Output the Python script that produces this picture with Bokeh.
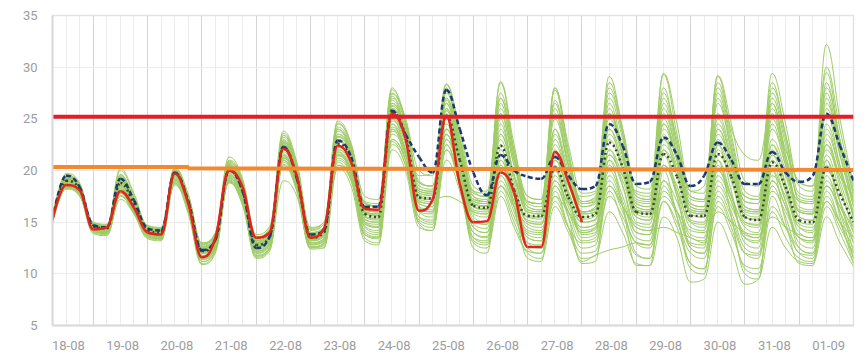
import numpy as np
from bokeh.plotting import figure
from bokeh.models import ColumnDataSource, FixedTicker, Range1d
from bokeh.embed import file_html
from bokeh.resources import INLINE

# ---------------- data ----------------
day_labels = ["18-08", "19-08", "20-08", "21-08", "22-08", "23-08", "24-08", "25-08",
              "26-08", "27-08", "28-08", "29-08", "30-08", "31-08", "01-09"]
# hours since 18-08 00:00, 6-hourly from 18-08 06:00 to 02-09 00:00
hours = list(range(6, 361, 6))
y_ticks = [5, 10, 15, 20, 25, 30, 35]

threshold_red_h = [6, 360]
threshold_red_v = [25.2, 25.2]
threshold_orange_h = [6, 66, 66, 360]
threshold_orange_v = [20.35, 20.35, 20.22, 20.05]

observed = [15.3, 18.6, 18.1,
            14.3, 14.5, 18.0, 16.4,
            14.0, 13.8, 19.7, 16.8,
            11.6, 13.5, 20.0, 18.4,
            13.5, 14.0, 22.1, 19.4,
            13.5, 14.4, 22.4, 20.8,
            16.3, 16.2, 25.5, 23.1,
            16.1, 17.2, 25.3, 18.7,
            15.0, 15.1, 19.8, 17.9,
            12.6, 12.6, 21.8, 18.9,
            15.0]

deterministic = [15.3, 19.5, 18.4,
                 14.7, 14.5, 19.2, 17.1,
                 14.4, 14.2, 19.8, 17.0,
                 12.3, 13.3, 20.0, 18.0,
                 12.5, 13.6, 22.3, 19.2,
                 13.8, 14.2, 22.9, 21.3,
                 16.5, 16.5, 25.8, 23.5,
                 21.3, 19.8, 27.8, 24.0,
                 19.8, 17.6, 21.5, 20.0,
                 19.4, 19.2, 21.3, 19.5,
                 18.2, 18.5, 24.5, 22.4,
                 18.7, 18.9, 23.2, 21.5,
                 18.5, 19.5, 22.7, 21.0,
                 18.7, 18.7, 21.8, 19.8,
                 18.9, 19.5, 25.5, 22.4,
                 19.0]

ens_mean = [15.3, 19.0, 18.2,
            14.6, 14.4, 18.8, 16.8,
            14.2, 14.0, 19.7, 17.0,
            12.2, 13.3, 20.0, 18.0,
            12.8, 13.6, 22.2, 19.4,
            13.5, 14.0, 22.6, 21.0,
            15.8, 15.5, 25.6, 23.4,
            17.4, 17.3, 25.3, 21.0,
            16.6, 16.4, 22.4, 18.1,
            15.6, 15.6, 20.3, 17.4,
            15.5, 15.8, 22.7, 20.3,
            16.0, 15.8, 21.6, 19.4,
            15.6, 15.6, 21.6, 19.4,
            15.5, 15.2, 20.8, 18.4,
            15.2, 15.0, 20.3, 17.7,
            15.0]

m01 = [15.4, 19.6, 18.5, 14.8, 14.6, 19.5, 17.3, 14.5, 14.3, 20.1, 17.5, 12.8, 13.8, 20.8, 18.8,
       13.5, 14.2, 23.4, 20.3, 14.2, 14.8, 24.6, 22.4, 17.0, 16.8, 27.8, 25.0, 19.0, 18.5, 28.3, 23.5,
       18.0, 17.5, 28.5, 22.0, 17.5, 17.2, 27.8, 21.5, 17.0, 17.5, 29.1, 24.0, 17.8, 17.5, 29.3, 23.5,
       17.5, 17.2, 29.1, 23.5, 18.0, 17.5, 29.4, 24.5, 18.5, 18.0, 32.2, 25.0, 18.5]
m02 = [15.2, 19.3, 18.4, 14.7, 14.5, 19.2, 17.0, 14.4, 14.1, 20.0, 17.3, 12.5, 13.6, 20.5, 18.5,
       13.2, 14.0, 23.0, 20.1, 14.0, 14.5, 24.0, 22.0, 16.5, 16.2, 27.0, 24.5, 18.5, 18.2, 28.0, 22.8,
       17.5, 17.0, 26.5, 21.0, 17.0, 16.8, 25.5, 20.5, 16.8, 17.2, 27.5, 23.5, 17.2, 17.0, 28.0, 22.5,
       16.8, 16.5, 27.0, 22.0, 17.0, 16.8, 26.0, 21.5, 17.5, 17.2, 29.5, 23.0, 17.8]
m03 = [15.3, 19.2, 18.3, 14.6, 14.5, 19.0, 16.9, 14.3, 14.2, 19.9, 17.2, 12.4, 13.5, 20.3, 18.3,
       13.0, 13.8, 22.6, 19.8, 13.8, 14.3, 23.5, 21.8, 16.2, 16.0, 26.5, 24.0, 18.2, 18.0, 27.0, 22.5,
       17.2, 17.0, 25.5, 20.5, 16.8, 16.5, 26.5, 21.0, 16.5, 17.0, 28.0, 23.5, 17.5, 17.2, 27.5, 23.0,
       18.0, 18.5, 28.5, 24.0, 21.5, 21.0, 26.5, 22.0, 19.0, 18.5, 27.5, 22.5, 19.0]
m04 = [15.1, 18.9, 18.1, 14.5, 14.3, 18.7, 16.7, 14.1, 13.9, 19.6, 16.9, 12.0, 13.1, 19.8, 17.8,
       12.6, 13.4, 22.8, 19.6, 13.4, 13.9, 24.0, 21.5, 15.5, 15.4, 27.2, 23.8, 17.8, 17.6, 26.5, 22.0,
       16.8, 16.6, 27.0, 21.5, 16.2, 16.0, 28.0, 22.0, 16.0, 16.5, 25.0, 21.5, 16.5, 16.2, 26.5, 22.0,
       16.2, 16.0, 25.5, 21.5, 16.5, 16.2, 28.0, 23.5, 17.0, 16.8, 26.0, 21.5, 16.5]
m05 = [15.4, 18.8, 18.0, 14.7, 14.6, 18.5, 16.6, 14.3, 14.1, 19.4, 16.8, 12.3, 13.4, 19.5, 17.6,
       12.9, 13.7, 21.5, 18.8, 13.6, 14.1, 21.8, 20.0, 16.0, 15.8, 24.5, 21.5, 17.5, 17.2, 17.5, 17.0,
       16.0, 15.8, 21.0, 18.0, 15.5, 15.3, 23.5, 19.5, 15.8, 16.0, 26.0, 21.5, 16.2, 16.0, 22.5, 20.0,
       15.8, 15.5, 24.0, 20.5, 15.5, 15.3, 22.5, 19.5, 15.5, 15.2, 24.0, 20.0, 15.5]
m06 = [15.3, 18.7, 17.9, 14.4, 14.2, 18.3, 16.4, 14.0, 13.8, 19.3, 16.7, 11.8, 12.9, 19.6, 17.6,
       12.4, 13.2, 21.8, 19.0, 13.2, 13.6, 22.0, 20.4, 15.2, 15.0, 25.0, 22.8, 17.0, 16.8, 25.8, 21.2,
       16.2, 16.0, 23.5, 19.0, 15.0, 14.8, 21.0, 17.8, 15.0, 15.2, 23.5, 20.5, 15.5, 15.2, 20.5, 18.5,
       14.5, 14.2, 22.5, 19.5, 15.0, 14.7, 19.5, 17.5, 14.5, 14.2, 21.5, 18.0, 14.5]
m07 = [15.2, 18.5, 17.8, 14.3, 14.1, 18.0, 16.2, 13.8, 13.6, 19.0, 16.5, 11.5, 12.6, 19.2, 17.2,
       12.2, 13.0, 21.0, 18.5, 12.8, 13.2, 21.2, 19.6, 14.8, 14.5, 24.0, 22.0, 16.5, 16.2, 24.0, 20.0,
       15.0, 14.8, 20.0, 17.0, 14.2, 14.0, 18.5, 16.0, 14.0, 14.3, 21.0, 18.5, 14.5, 14.2, 19.0, 17.0,
       13.5, 13.2, 19.5, 17.0, 13.8, 13.5, 18.0, 16.0, 13.5, 13.2, 19.0, 16.5, 13.5]
m08 = [15.0, 18.3, 17.6, 14.1, 13.9, 17.5, 15.9, 13.6, 13.4, 18.7, 16.2, 11.2, 12.3, 18.8, 16.8,
       11.8, 12.6, 20.5, 18.0, 12.5, 12.8, 20.5, 19.0, 14.5, 14.0, 23.0, 21.0, 16.0, 15.5, 22.5, 19.0,
       14.0, 13.5, 18.5, 15.5, 13.0, 12.8, 17.0, 14.5, 13.0, 13.2, 17.5, 15.5, 13.0, 12.5, 17.0, 15.0,
       12.0, 11.5, 17.5, 15.0, 12.0, 11.8, 16.5, 14.5, 12.5, 12.0, 17.5, 15.0, 12.5]
m09 = [15.1, 18.6, 17.9, 14.4, 14.2, 18.4, 16.3, 13.9, 13.7, 19.2, 16.6, 11.6, 12.7, 19.4, 17.3,
       12.0, 12.8, 21.2, 18.6, 13.0, 13.4, 21.5, 19.8, 14.0, 13.6, 22.5, 20.5, 15.0, 14.5, 21.0, 18.0,
       13.0, 12.5, 17.5, 14.5, 12.0, 11.5, 16.5, 14.0, 11.5, 11.8, 16.0, 14.0, 11.0, 10.8, 15.5, 13.5,
       9.2, 9.5, 15.0, 12.5, 9.0, 9.5, 14.5, 12.5, 11.2, 11.0, 15.5, 13.0, 10.7]
m10 = [15.4, 18.9, 18.2, 14.6, 14.4, 18.9, 16.9, 14.2, 14.0, 19.6, 16.9, 12.0, 13.2, 20.2, 18.2,
       12.6, 13.4, 22.0, 19.2, 13.3, 13.8, 22.8, 21.2, 15.0, 14.8, 25.0, 22.0, 16.8, 16.5, 23.5, 19.5,
       14.5, 14.0, 19.5, 16.5, 13.0, 12.5, 18.0, 14.5, 11.2, 11.8, 12.3, 12.6, 13.0, 12.8, 18.0, 16.0,
       13.0, 12.8, 20.0, 17.0, 13.5, 13.0, 21.5, 18.0, 14.0, 13.5, 22.5, 18.5, 14.0]
m11 = [15.2, 19.1, 18.3, 14.5, 14.3, 18.6, 16.6, 14.1, 13.9, 19.5, 16.9, 12.1, 13.2, 19.9, 17.9,
       12.7, 13.5, 22.4, 19.5, 13.6, 14.1, 22.2, 20.8, 15.6, 15.3, 25.5, 23.0, 17.2, 17.0, 24.5, 20.5,
       15.8, 15.5, 22.0, 18.0, 15.0, 14.8, 20.0, 17.0, 14.5, 14.8, 19.0, 16.5, 14.5, 14.2, 14.5, 14.0,
       13.5, 13.0, 19.0, 16.5, 14.0, 13.5, 20.0, 17.0, 13.5, 13.0, 18.5, 16.0, 13.0]
m12 = [15.5, 19.4, 18.6, 14.9, 14.7, 19.4, 17.2, 14.6, 14.4, 20.2, 17.6, 12.9, 13.9, 20.6, 18.6,
       13.4, 14.1, 22.9, 20.0, 14.0, 14.5, 23.8, 22.0, 16.5, 16.2, 26.5, 24.0, 18.0, 17.8, 26.0, 21.5,
       17.0, 16.8, 24.5, 19.5, 16.5, 16.2, 22.5, 19.0, 16.0, 16.3, 24.5, 21.5, 16.8, 16.5, 24.0, 21.0,
       16.5, 16.2, 23.5, 20.5, 16.2, 16.0, 23.0, 20.0, 16.0, 15.8, 23.5, 20.0, 16.0]
m13 = [15.0, 18.4, 17.7, 14.2, 14.0, 17.8, 16.0, 13.7, 13.5, 18.9, 16.3, 11.4, 12.5, 19.0, 17.0,
       11.6, 12.4, 19.0, 17.5, 12.6, 13.0, 20.5, 19.2, 13.8, 13.5, 23.5, 21.5, 15.5, 15.0, 23.0, 19.5,
       13.5, 13.0, 19.0, 16.0, 12.5, 12.0, 18.5, 15.5, 12.5, 12.8, 19.5, 16.5, 12.0, 11.5, 18.5, 15.5,
       11.0, 10.5, 17.0, 14.5, 10.5, 10.0, 17.5, 14.5, 12.0, 11.5, 18.0, 15.0, 11.5]
m14 = [15.3, 19.5, 18.7, 14.8, 14.6, 20.0, 17.6, 14.4, 14.2, 20.0, 17.4, 12.6, 13.7, 21.0, 19.0,
       13.3, 14.0, 23.6, 20.5, 13.9, 14.4, 24.8, 22.6, 16.8, 16.5, 28.0, 24.5, 18.8, 18.5, 27.5, 23.0,
       17.8, 17.5, 28.6, 22.5, 17.0, 16.8, 24.0, 20.0, 16.0, 16.5, 23.0, 20.0, 16.0, 15.8, 25.0, 21.0,
       16.0, 15.8, 26.5, 22.0, 16.5, 16.2, 25.0, 21.0, 16.2, 16.0, 28.5, 22.5, 17.0]
m15 = [14.9, 18.2, 17.5, 14.0, 13.8, 17.2, 15.8, 13.5, 13.3, 18.6, 16.0, 11.0, 12.2, 18.9, 16.6,
       11.7, 12.4, 20.8, 18.2, 12.6, 12.6, 20.2, 18.5, 13.2, 12.8, 22.0, 20.0, 14.5, 14.2, 22.0, 18.5,
       13.5, 13.2, 20.5, 17.0, 13.5, 13.2, 21.5, 17.5, 13.8, 14.0, 22.0, 18.5, 14.0, 13.8, 20.5, 17.5,
       12.5, 12.0, 18.5, 16.0, 12.5, 12.0, 19.0, 16.5, 13.0, 12.5, 20.0, 17.0, 12.0]
m16 = [15.6, 19.2, 18.5, 15.0, 14.8, 19.0, 17.1, 14.7, 14.5, 19.8, 17.3, 13.0, 13.9, 20.0, 18.3,
       13.6, 14.4, 22.2, 19.8, 14.4, 15.0, 22.8, 21.3, 16.8, 16.6, 25.2, 23.0, 19.5, 19.8, 24.0, 21.5,
       18.0, 17.8, 22.5, 19.5, 17.0, 16.8, 21.0, 18.5, 17.5, 17.8, 21.5, 19.5, 18.0, 17.8, 22.0, 20.0,
       17.5, 17.2, 21.5, 19.5, 17.5, 17.2, 21.5, 19.5, 17.0, 16.8, 22.0, 19.5, 17.5]
m17 = [15.2, 18.8, 18.1, 14.5, 14.3, 18.2, 16.5, 14.0, 13.8, 19.2, 16.8, 11.7, 12.8, 19.5, 17.4,
       12.3, 13.1, 21.4, 18.9, 13.2, 13.6, 21.8, 20.2, 15.0, 14.6, 24.5, 22.0, 16.2, 16.0, 25.0, 20.5,
       15.2, 14.8, 21.5, 17.5, 14.5, 14.2, 19.5, 16.5, 14.0, 14.5, 24.0, 20.0, 15.0, 14.8, 23.0, 19.5,
       15.0, 14.5, 20.5, 17.5, 14.5, 14.0, 22.5, 18.5, 14.5, 14.0, 20.5, 17.0, 14.0]
m18 = [15.4, 19.7, 18.8, 14.9, 14.7, 20.2, 17.8, 14.6, 14.4, 20.3, 17.7, 13.0, 14.0, 21.3, 19.2,
       13.8, 14.6, 23.8, 20.8, 14.5, 15.0, 24.5, 22.5, 17.5, 17.2, 27.5, 25.0, 20.0, 19.5, 28.4, 24.0,
       18.5, 18.0, 27.5, 22.0, 17.5, 17.2, 28.0, 22.5, 17.8, 18.0, 28.5, 24.0, 18.5, 18.2, 29.4, 24.5,
       18.0, 17.8, 29.2, 24.5, 19.0, 18.5, 28.5, 23.5, 18.8, 18.5, 30.0, 24.0, 18.0]
m19 = [14.9, 18.4, 17.6, 13.9, 13.7, 17.6, 15.8, 13.4, 13.2, 18.8, 15.8, 10.9, 12.0, 19.0, 16.8,
       11.5, 12.2, 21.0, 18.2, 12.4, 12.5, 21.5, 19.5, 13.5, 13.0, 24.0, 21.0, 14.8, 14.2, 23.5, 19.0,
       12.5, 12.0, 21.0, 16.5, 11.5, 11.2, 20.0, 15.5, 11.0, 11.2, 21.0, 16.5, 10.8, 10.8, 20.0, 15.5,
       10.5, 10.0, 21.0, 15.5, 10.0, 9.5, 20.0, 15.0, 11.0, 10.8, 21.0, 15.5, 11.0]
m20 = [15.3, 19.0, 18.2, 14.6, 14.4, 18.9, 16.8, 14.2, 14.0, 19.8, 17.1, 12.2, 13.3, 20.1, 18.1,
       12.8, 13.6, 22.5, 19.5, 13.6, 14.0, 23.0, 21.2, 15.8, 15.6, 26.0, 23.5, 17.5, 17.2, 26.5, 21.5,
       16.5, 16.2, 25.0, 19.5, 15.8, 15.5, 24.0, 19.0, 15.5, 15.8, 26.5, 22.0, 16.0, 15.8, 26.0, 21.5,
       15.8, 15.5, 25.0, 21.0, 15.5, 15.2, 26.5, 21.5, 15.5, 15.2, 25.5, 20.5, 15.5]
m21 = [15.1, 18.7, 18.0, 14.4, 14.2, 18.5, 16.5, 14.0, 13.8, 19.4, 16.8, 12.0, 13.0, 19.7, 17.5,
       12.5, 13.3, 21.6, 19.0, 13.3, 13.7, 22.0, 20.5, 15.3, 15.0, 24.8, 22.5, 16.8, 16.5, 24.0, 20.0,
       15.5, 15.0, 18.5, 16.5, 14.8, 14.5, 17.5, 16.0, 14.5, 14.8, 18.5, 16.5, 14.8, 14.5, 17.5, 16.0,
       14.2, 14.0, 16.0, 15.0, 14.0, 13.8, 15.5, 14.5, 13.8, 13.5, 17.0, 15.0, 13.5]
m22 = [15.4, 19.2, 18.4, 14.7, 14.5, 19.3, 17.0, 14.4, 14.2, 20.0, 17.4, 12.6, 13.6, 20.5, 18.5,
       13.1, 13.9, 23.2, 20.2, 13.9, 14.4, 23.2, 21.5, 16.2, 16.0, 26.8, 24.0, 18.0, 17.8, 27.0, 22.5,
       17.2, 17.0, 26.0, 21.0, 16.5, 16.2, 25.0, 20.5, 16.8, 17.0, 25.5, 22.0, 17.0, 16.8, 24.5, 21.0,
       16.8, 16.5, 27.5, 22.5, 17.0, 16.8, 27.0, 22.5, 17.2, 17.0, 26.5, 22.0, 16.8]
m23 = [15.0, 18.6, 17.8, 14.3, 14.0, 18.1, 16.2, 13.8, 13.6, 19.1, 16.5, 11.6, 12.6, 19.3, 17.1,
       12.1, 12.9, 21.3, 18.7, 12.9, 13.3, 21.6, 20.0, 14.6, 14.2, 23.8, 21.8, 16.0, 15.8, 23.0, 19.5,
       14.5, 14.0, 20.5, 17.0, 13.8, 13.5, 21.5, 17.5, 13.5, 13.8, 20.0, 17.0, 13.5, 13.2, 21.5, 17.5,
       12.8, 12.5, 22.5, 18.0, 13.0, 12.5, 20.5, 17.0, 12.5, 12.0, 19.5, 16.0, 11.5]
m24 = [15.3, 19.3, 18.5, 14.6, 14.5, 19.6, 17.2, 14.3, 14.1, 20.1, 17.5, 12.4, 13.5, 20.7, 18.7,
       12.9, 13.7, 22.8, 19.9, 13.7, 14.2, 23.5, 21.6, 16.0, 15.7, 26.3, 23.8, 17.8, 17.6, 25.8, 21.8,
       16.5, 16.2, 23.5, 19.5, 16.0, 15.8, 23.0, 19.0, 15.8, 16.0, 24.0, 21.0, 16.5, 16.2, 23.0, 20.5,
       16.0, 15.8, 24.5, 21.0, 16.2, 16.0, 24.0, 20.5, 16.0, 15.8, 24.5, 20.5, 15.8]
m25 = [15.2, 18.9, 18.0, 14.5, 14.3, 18.6, 16.6, 14.1, 13.9, 19.5, 16.8, 12.1, 13.2, 19.9, 17.8,
       12.7, 13.5, 22.0, 19.3, 13.4, 13.9, 22.4, 20.7, 15.5, 15.2, 25.2, 23.0, 17.0, 16.8, 25.0, 21.0,
       16.0, 15.8, 20.5, 17.5, 15.2, 15.0, 19.0, 16.8, 15.0, 15.3, 21.5, 19.0, 15.5, 15.2, 20.5, 18.0,
       15.0, 14.8, 20.0, 17.5, 14.8, 14.5, 21.0, 18.0, 14.8, 14.5, 18.5, 16.5, 14.5]
m26 = [15.5, 19.1, 18.4, 14.8, 14.6, 19.1, 17.0, 14.5, 14.3, 19.9, 17.3, 12.7, 13.7, 20.4, 18.4,
       13.2, 14.0, 22.7, 19.9, 14.0, 14.5, 23.3, 21.6, 16.3, 16.0, 26.2, 24.0, 18.2, 18.0, 26.0, 22.0,
       17.0, 16.8, 25.5, 20.5, 16.2, 16.0, 26.0, 20.5, 16.5, 16.8, 25.5, 21.5, 16.8, 16.5, 25.5, 21.5,
       16.5, 16.2, 24.0, 20.5, 16.0, 15.8, 25.5, 21.0, 16.5, 16.2, 27.0, 21.5, 16.5]
m27 = [15.0, 18.5, 17.7, 14.2, 14.0, 18.0, 16.1, 13.7, 13.5, 19.0, 16.4, 11.4, 12.5, 19.1, 17.0,
       12.0, 12.8, 21.0, 18.4, 12.8, 13.1, 21.0, 19.4, 14.2, 13.8, 23.0, 21.0, 15.5, 15.2, 22.0, 18.8,
       14.0, 13.6, 19.5, 16.5, 13.5, 13.2, 19.0, 16.0, 13.2, 13.5, 18.5, 16.0, 13.0, 12.8, 19.0, 16.0,
       12.5, 12.0, 18.0, 15.5, 12.0, 11.5, 18.5, 15.5, 12.0, 11.8, 17.0, 14.5, 12.0]
m28 = [15.3, 19.1, 18.3, 14.6, 14.4, 18.8, 16.8, 14.2, 14.0, 19.8, 17.1, 12.3, 13.4, 20.2, 18.2,
       12.9, 13.7, 22.3, 19.5, 13.5, 14.0, 22.8, 21.1, 15.9, 15.6, 25.8, 23.5, 17.3, 17.2, 25.5, 21.2,
       16.5, 16.3, 23.0, 18.5, 15.5, 15.5, 21.5, 18.0, 15.3, 15.6, 22.0, 19.5, 15.8, 15.5, 23.5, 20.0,
       15.2, 15.0, 22.0, 19.0, 15.0, 14.8, 22.0, 18.8, 15.0, 14.8, 23.0, 19.0, 15.0]
m29 = [15.5, 19.4, 18.6, 14.9, 14.7, 19.6, 17.4, 14.6, 14.4, 20.1, 17.6, 12.9, 13.9, 20.9, 18.9,
       13.5, 14.3, 23.4, 20.5, 14.3, 14.8, 24.2, 22.2, 16.9, 16.6, 27.4, 24.8, 18.8, 18.5, 27.8, 23.0,
       17.5, 17.2, 27.0, 21.5, 17.0, 16.8, 26.8, 21.5, 17.0, 17.3, 27.0, 23.0, 17.5, 17.2, 27.0, 22.5,
       17.2, 17.0, 28.0, 23.0, 17.5, 17.2, 27.5, 23.0, 17.8, 17.5, 28.0, 23.0, 17.5]
m30 = [15.0, 18.3, 17.6, 14.1, 13.9, 17.8, 15.9, 13.6, 13.4, 18.8, 16.1, 11.2, 12.3, 18.9, 16.8,
       11.8, 12.5, 20.6, 18.0, 12.6, 12.9, 20.8, 19.0, 13.8, 13.4, 22.8, 20.5, 15.2, 14.8, 22.5, 18.5,
       13.2, 12.8, 18.0, 15.0, 12.2, 12.0, 17.5, 14.5, 12.0, 12.2, 18.0, 15.0, 11.8, 11.5, 17.0, 14.5,
       11.0, 10.5, 16.5, 14.0, 10.8, 10.5, 16.0, 13.5, 11.5, 11.2, 16.5, 14.0, 11.0]
m31 = [15.3, 19.2, 18.4, 14.7, 14.5, 19.2, 17.0, 14.3, 14.1, 19.9, 17.3, 12.5, 13.5, 20.4, 18.4,
       13.0, 13.8, 22.6, 19.7, 13.8, 14.3, 23.3, 21.5, 16.1, 15.8, 26.0, 23.8, 17.6, 17.4, 26.8, 22.0,
       16.8, 16.5, 24.0, 19.5, 16.0, 15.8, 22.0, 18.5, 16.0, 16.2, 25.5, 21.5, 16.2, 16.0, 24.5, 21.0,
       16.2, 16.0, 23.0, 20.0, 15.8, 15.5, 24.5, 20.5, 16.0, 15.8, 22.5, 19.5, 15.5]
m32 = [15.1, 18.5, 17.8, 14.3, 14.1, 18.1, 16.2, 13.9, 13.7, 19.1, 16.5, 11.6, 12.7, 19.3, 17.2,
       12.2, 13.0, 21.2, 18.7, 13.0, 13.4, 21.4, 19.9, 14.9, 14.5, 24.2, 22.0, 16.4, 16.0, 23.5, 19.8,
       14.8, 14.4, 21.5, 17.5, 14.0, 13.8, 20.5, 17.0, 14.2, 14.5, 20.5, 17.5, 14.0, 13.8, 22.0, 18.0,
       13.8, 13.5, 21.0, 17.5, 13.5, 13.2, 19.0, 16.5, 13.5, 13.2, 21.0, 17.0, 13.0]

members = [m01, m02, m03, m04, m05, m06, m07, m08, m09, m10, m11, m12, m13, m14, m15, m16,
           m17, m18, m19, m20, m21, m22, m23, m24, m25, m26, m27, m28, m29, m30, m31, m32]

# ---------------- smooth (Highcharts-like spline) segments ----------------
def spline_segments(xs, ys):
    x = np.asarray(xs, dtype=float)
    y = np.asarray(ys, dtype=float)
    n = len(x)
    lcx, lcy, rcx, rcy = x.copy(), y.copy(), x.copy(), y.copy()
    s = 1.5
    d = s + 1.0
    for i in range(1, n - 1):
        px, py = x[i], y[i]
        lx, ly = x[i - 1], y[i - 1]
        nx, ny = x[i + 1], y[i + 1]
        a_x = (s * px + lx) / d
        a_y = (s * py + ly) / d
        b_x = (s * px + nx) / d
        b_y = (s * py + ny) / d
        corr = 0.0
        if b_x != a_x:
            corr = ((b_y - a_y) * (b_x - px)) / (b_x - a_x) + py - b_y
        a_y += corr
        b_y += corr
        if a_y > ly and a_y > py:
            a_y = max(ly, py); b_y = 2 * py - a_y
        elif a_y < ly and a_y < py:
            a_y = min(ly, py); b_y = 2 * py - a_y
        if b_y > ny and b_y > py:
            b_y = max(ny, py); a_y = 2 * py - b_y
        elif b_y < ny and b_y < py:
            b_y = min(ny, py); a_y = 2 * py - b_y
        lcx[i], lcy[i], rcx[i], rcy[i] = a_x, a_y, b_x, b_y
    return dict(x0=x[:-1], y0=y[:-1], x1=x[1:], y1=y[1:],
                cx0=rcx[:-1], cy0=rcy[:-1], cx1=lcx[1:], cy1=lcy[1:])


def merge(dicts):
    keys = dicts[0].keys()
    return {k: np.concatenate([dd[k] for dd in dicts]) for k in keys}


for m in members:
    assert len(m) == len(hours), len(m)

# ---------------- figure ----------------
p = figure(width=860, height=352, x_range=Range1d(6, 360), y_range=Range1d(5, 35),
           output_backend="svg", toolbar_location=None,
           min_border_left=52, min_border_right=7, min_border_top=15, min_border_bottom=27)
p.background_fill_color = "white"
p.border_fill_color = "white"
p.outline_line_color = "#e2e2e2"
p.outline_line_width = 1.5

label_pos = [24 * k + 13 for k in range(len(day_labels))]
p.xaxis.ticker = FixedTicker(ticks=label_pos)
p.xaxis.major_label_overrides = {pos: lab for pos, lab in zip(label_pos, day_labels)}
p.yaxis.ticker = FixedTicker(ticks=y_ticks)

for ax in (p.xaxis, p.yaxis):
    ax.axis_line_color = "#dadada"
    ax.axis_line_width = 2
    ax.major_tick_line_color = None
    ax.minor_tick_line_color = None
    ax.major_label_text_color = "#9d9d9d"
    ax.major_label_text_font = "Roboto"
    ax.major_label_text_font_size = "13px"
p.xaxis.major_label_standoff = 9
p.yaxis.major_label_standoff = 9

p.xgrid.ticker = FixedTicker(ticks=[24 * k for k in range(1, 16)], minor_ticks=hours)
p.xgrid.grid_line_color = "#d4d4d4"
p.xgrid.minor_grid_line_color = "#ececec"
p.ygrid.ticker = FixedTicker(ticks=y_ticks)
p.ygrid.grid_line_color = "#ececec"

bz = dict(x0="x0", y0="y0", x1="x1", y1="y1", cx0="cx0", cy0="cy0", cx1="cx1", cy1="cy1")

# ensemble members
ens_src = ColumnDataSource(merge([spline_segments(hours, m) for m in members]))
p.bezier(source=ens_src, line_color="#9ecc66", line_width=1, **bz)

# ensemble mean (dotted)
p.bezier(source=ColumnDataSource(spline_segments(hours, ens_mean)),
         line_color="#344a2c", line_width=2.5, line_dash="2 3", **bz)

# deterministic (dashed navy)
p.bezier(source=ColumnDataSource(spline_segments(hours, deterministic)),
         line_color="#1c3a70", line_width=2.5, line_dash="5 3", **bz)

# observed (red)
p.bezier(source=ColumnDataSource(spline_segments(hours[:len(observed)], observed)),
         line_color="#e3241c", line_width=2.5, **bz)

# thresholds
p.line(threshold_orange_h, threshold_orange_v, line_color="#f5872c", line_width=4)
p.line(threshold_red_h, threshold_red_v, line_color="#e11f26", line_width=4)

open("out.html", "w").write(file_html(p, INLINE))
